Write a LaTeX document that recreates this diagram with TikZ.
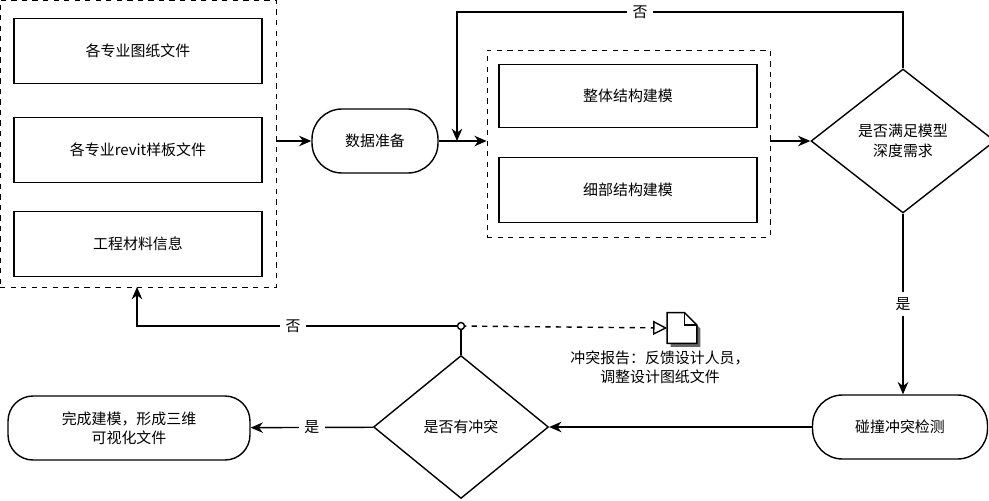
\documentclass[tikz,border=0pt]{standalone}
\usepackage{fontspec}
\newfontfamily\cjk{Noto Sans CJK SC}
\usetikzlibrary{shapes.geometric,arrows.meta}
\tikzstyle{infobox} = [draw=black, thick, rectangle, minimum width=4.96cm, minimum height=1.3cm, font=\cjk\fontsize{8.5}{11}\selectfont]
\tikzstyle{stepbox} = [draw=black, thick, rectangle, rounded corners=0.6cm, minimum height=1.28cm, align=center, font=\cjk\fontsize{8.5}{11}\selectfont]
\tikzstyle{choice} = [draw=black, thick, diamond, aspect=1.3, inner sep=0pt, align=center, font=\cjk\fontsize{8.5}{11}\selectfont]
\tikzstyle{groupbox} = [draw=black, dashed, rectangle]
\tikzstyle{flow} = [thick, -{Stealth[length=7pt,width=6pt]}]
\tikzstyle{tag} = [fill=white, font=\cjk\fontsize{8.5}{11}\selectfont]
\begin{document}
\begin{tikzpicture}[x=0.02cm,y=-0.02cm]
\useasboundingbox (0,0) rectangle (989,500);
% left group
\node [groupbox, minimum width=5.52cm, minimum height=5.74cm] (srcgroup) at (138,143.5) {};
\node [infobox] (drawings) at (138,51) {各专业图纸文件};
\node [infobox] (templates) at (138,150) {各专业revit样板文件};
\node [infobox] (materials) at (138,244) {工程材料信息};
\node [stepbox, minimum width=2.52cm] (prep) at (375,141) {数据准备};
% middle group
\node [groupbox, minimum width=5.66cm, minimum height=3.74cm] (modelgroup) at (628.5,143.5) {};
\node [infobox, minimum width=5.16cm, minimum height=1.26cm] (whole) at (628,96) {整体结构建模};
\node [infobox, minimum width=5.16cm, minimum height=1.3cm] (detail) at (628,190) {细部结构建模};
\node [choice, minimum width=3.68cm, minimum height=2.88cm] (depth) at (903,141) {是否满足模型\\深度需求};
\node [stepbox, minimum width=3.5cm] (clash) at (900,427) {碰撞冲突检测};
\node [choice, minimum width=3.5cm, minimum height=2.86cm] (conflict) at (461,427) {是否有冲突};
\node [stepbox, minimum width=4.84cm, rounded corners=0.5cm] (done) at (129,428) {完成建模，形成三维\\可视化文件};
% report icon
\node [minimum width=0.58cm, minimum height=0.6cm, inner sep=0pt] (report) at (682,328) {};
\fill [black!60] ([xshift=2pt,yshift=-2pt]report.north west) -- ([xshift=-5pt,yshift=-2pt]report.north east) -- ([xshift=2pt,yshift=-9pt]report.north east) -- ([xshift=2pt,yshift=-2pt]report.south east) -- ([xshift=2pt,yshift=-2pt]report.south west) -- cycle;
\draw [thick, fill=white] (report.north west) -- ([xshift=-7pt]report.north east) -- ([yshift=-7pt]report.north east) -- (report.south east) -- (report.south west) -- cycle;
\draw [thick] ([xshift=-7pt]report.north east) |- ([yshift=-7pt]report.north east);
\node [font=\cjk\fontsize{8.5}{11}\selectfont, align=center] (reportnote) at (660,367) {冲突报告：反馈设计人员，\\调整设计图纸文件};
% connectors
\coordinate (junction) at (461,326);
\coordinate (loopin) at (457,141);
\draw [flow] (srcgroup.east |- prep) -- (prep);
\draw [flow] (prep) -- (modelgroup.west |- prep);
\draw [flow] (modelgroup.east |- depth) -- (depth);
\draw [flow] (depth.north) |- (457,12) -- (loopin);
\node [tag] at (640,12) {否};
\draw [flow] (depth.south) -- node [tag] {是} (clash.north -| depth.south);
\draw [flow] (clash) -- (conflict);
\draw [flow] (conflict) -- node [tag] {是} (done);
\draw [thick] (conflict.north) -- (junction);
\draw [flow] (junction) -| (137,287);
\node [tag] at (293,326) {否};
\draw [thick, dashed, -{Triangle[open,length=8pt,width=8pt]}] (junction) -- (report.west);
\draw [thick, fill=white] (junction) circle (3.5);
\end{tikzpicture}
\end{document}
